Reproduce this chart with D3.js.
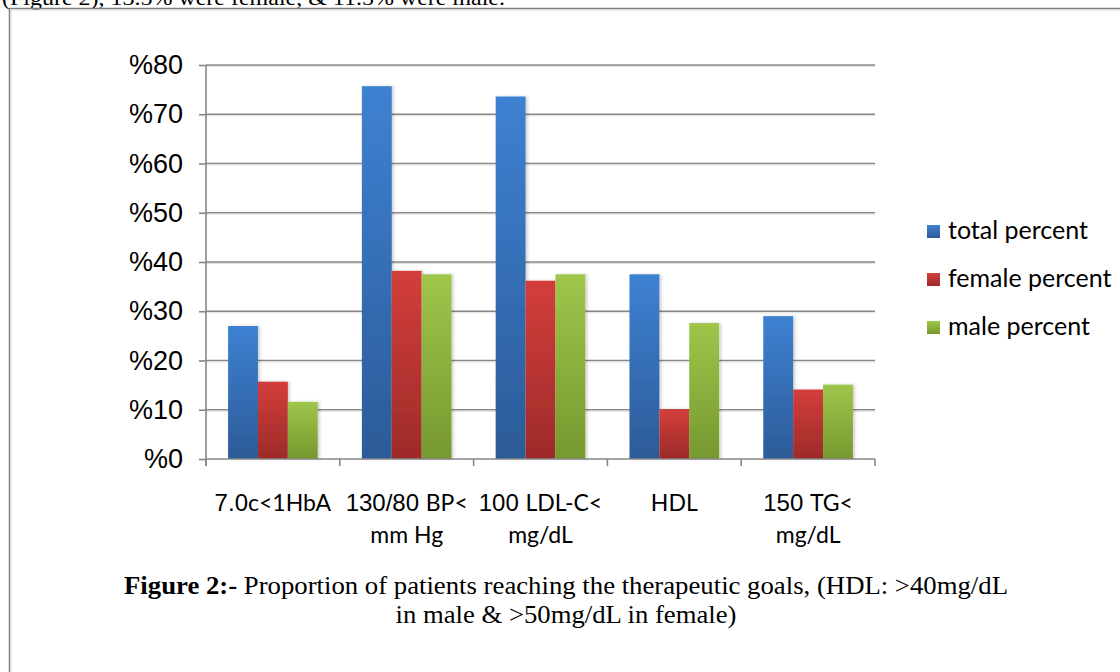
<!DOCTYPE html>
<html>
<head>
<meta charset="utf-8">
<script src="https://cdn.jsdelivr.net/npm/d3@7"></script>
<style>
  body { margin: 0; background: #fff; }
  svg { display: block; }
</style>
</head>
<body>
<div id="chart"></div>
<script>
// data
const categories = ["HbA1c<7.0", "BP<130/80", "LDL-C<100", "HDL", "TG<150"];
// each label line is a list of [text, font] pieces (n = numbers font, t = text font)
const labelLines = [
  [[["7.0", "n"], ["c<1HbA", "t"]]],
  [[["130/80 ", "n"], ["BP<", "t"]], [["mm Hg", "t"]]],
  [[["100 ", "n"], ["LDL-C<", "t"]], [["mg/dL", "t"]]],
  [[["HDL", "t"]]],
  [[["150 ", "n"], ["TG<", "t"]], [["mg/dL", "t"]]]
];
const seriesNames = ["total percent", "female percent", "male percent"];
const totalPct  = [27.0, 75.7, 73.6, 37.5, 29.0];
const femalePct = [15.7, 38.2, 36.2, 10.1, 14.1];
const malePct   = [11.6, 37.5, 37.5, 27.6, 15.1];
const yTicks = [0, 10, 20, 30, 40, 50, 60, 70, 80];

const series = [totalPct, femalePct, malePct];
const colors = [
  {top: "#3e81d2", bottom: "#2c5b98"},
  {top: "#d33e3b", bottom: "#9d2b29"},
  {top: "#9fc64b", bottom: "#76982f"}
];

const width = 1120, height = 672;
const margin = {left: 206, right: 245, top: 65, bottom: 213};

const svg = d3.select('#chart').append('svg')
    .attr('width', width)
    .attr('height', height);

const defs = svg.append('defs');
colors.forEach((c, i) => {
  const g = defs.append('linearGradient')
      .attr('id', 'grad' + i)
      .attr('x1', 0).attr('y1', 0).attr('x2', 0).attr('y2', 1);
  g.append('stop').attr('offset', '0%').attr('stop-color', c.top);
  g.append('stop').attr('offset', '100%').attr('stop-color', c.bottom);
});
const shadow = defs.append('filter').attr('id', 'shadow')
    .attr('x', '-20%').attr('y', '-10%').attr('width', '150%').attr('height', '130%');
shadow.append('feDropShadow').attr('dx', 2).attr('dy', 0).attr('stdDeviation', 1.5)
    .attr('flood-color', '#000').attr('flood-opacity', 0.18);

// page text cut at the top + frame
svg.append('text')
    .attr('x', 2).attr('y', 5)
    .attr('font-family', 'Liberation Serif')
    .attr('font-size', 21)
    .attr('textLength', 503)
    .attr('lengthAdjust', 'spacingAndGlyphs')
    .text('(Figure 2), 13.5% were female, & 11.5% were male.');

svg.append('path')
    .attr('d', 'M9.5,' + height + 'V8.5H' + width)
    .attr('fill', 'none')
    .attr('stroke', '#7f7f7f')
    .attr('stroke-width', 1.5);
svg.append('path')
    .attr('d', 'M11,' + height + 'V10H' + width)
    .attr('fill', 'none')
    .attr('stroke', '#d9d9d9')
    .attr('stroke-width', 1);

// scales
const x0 = d3.scaleBand()
    .domain(categories)
    .range([margin.left, width - margin.right])
    .paddingInner(0.33)
    .paddingOuter(0.165);
const xCell = d3.scaleBand()
    .domain(categories)
    .range([margin.left, width - margin.right]);
const x1 = d3.scaleBand()
    .domain(d3.range(series.length))
    .range([0, x0.bandwidth()]);
const y = d3.scaleLinear()
    .domain([0, 80])
    .range([height - margin.bottom, margin.top]);

// grid
svg.append('g')
    .selectAll('line')
    .data(yTicks.filter(d => d > 0))
    .enter().append('line')
    .attr('x1', margin.left).attr('x2', width - margin.right)
    .attr('y1', d => y(d)).attr('y2', d => y(d))
    .attr('stroke', '#868686')
    .attr('stroke-width', 1.6);
svg.append('g')
    .selectAll('line')
    .data(yTicks.filter(d => d > 0))
    .enter().append('line')
    .attr('x1', margin.left).attr('x2', width - margin.right)
    .attr('y1', d => y(d) + 1.5).attr('y2', d => y(d) + 1.5)
    .attr('stroke', '#e0e0e0')
    .attr('stroke-width', 1);

// bars
series.forEach((vals, si) => {
  svg.append('g')
      .selectAll('rect')
      .data(vals)
      .enter().append('rect')
      .attr('x', (d, i) => x0(categories[i]) + x1(si))
      .attr('y', d => y(d))
      .attr('width', x1.bandwidth())
      .attr('height', d => y(0) - y(d))
      .attr('fill', 'url(#grad' + si + ')')
      .attr('filter', 'url(#shadow)');
});

// y axis
const yAxis = svg.append('g')
    .attr('transform', 'translate(' + margin.left + ',0)')
    .call(d3.axisLeft(y).tickValues(yTicks).tickSize(7).tickPadding(16).tickFormat(d => '%' + d));
yAxis.select('.domain').attr('stroke', '#868686').attr('stroke-width', 1.6)
    .attr('d', 'M0,' + y(80) + 'V' + (y(0) + 7));
yAxis.selectAll('.tick line').attr('stroke', '#868686').attr('stroke-width', 1.6);
yAxis.selectAll('.tick text')
    .attr('font-family', 'Liberation Sans, Arial, sans-serif')
    .attr('font-size', 27)
    .attr('fill', '#000');

// x axis
const bounds = categories.map(c => xCell(c)).concat([width - margin.right]);
svg.append('line')
    .attr('x1', margin.left).attr('x2', width - margin.right)
    .attr('y1', y(0)).attr('y2', y(0))
    .attr('stroke', '#868686').attr('stroke-width', 1.6);
svg.append('g')
    .selectAll('line')
    .data(bounds)
    .enter().append('line')
    .attr('x1', d => d).attr('x2', d => d)
    .attr('y1', y(0)).attr('y2', y(0) + 7)
    .attr('stroke', '#868686').attr('stroke-width', 1.6);

const fonts = {n: 'Liberation Sans, Arial, sans-serif', t: 'Lato, sans-serif'};
const sizes = {n: 24, t: 23};
const xLab = svg.append('g');
categories.forEach((c, i) => {
  const cx = xCell(c) + xCell.bandwidth() / 2;
  labelLines[i].forEach((line, li) => {
    const t = xLab.append('text')
        .attr('x', cx)
        .attr('y', y(0) + 52 + li * 32)
        .attr('text-anchor', 'middle');
    line.forEach(p => {
      t.append('tspan')
          .attr('font-family', fonts[p[1]])
          .attr('font-size', sizes[p[1]])
          .text(p[0]);
    });
  });
});

// legend
const legend = svg.append('g').attr('transform', 'translate(927,225)');
seriesNames.forEach((name, i) => {
  const g = legend.append('g').attr('transform', 'translate(0,' + i * 48 + ')');
  g.append('rect').attr('width', 13).attr('height', 13).attr('fill', 'url(#grad' + i + ')');
  g.append('text')
      .attr('x', 21).attr('y', 14)
      .attr('font-family', 'Lato, sans-serif')
      .attr('font-size', 25)
      .text(name);
});

// caption
const cap = svg.append('g')
    .attr('font-family', 'Liberation Serif, Times New Roman, serif')
    .attr('font-size', 25)
    .attr('text-anchor', 'middle');
const c1 = cap.append('text').attr('x', 566).attr('y', 594)
    .attr('textLength', 884).attr('lengthAdjust', 'spacingAndGlyphs');
c1.append('tspan').attr('font-weight', 'bold').text('Figure 2:-');
c1.append('tspan').text(' Proportion of patients reaching the therapeutic goals, (HDL: >40mg/dL');
cap.append('text').attr('x', 566).attr('y', 623)
    .attr('textLength', 341).attr('lengthAdjust', 'spacingAndGlyphs')
    .text('in male & >50mg/dL in female)');
</script>
</body>
</html>
